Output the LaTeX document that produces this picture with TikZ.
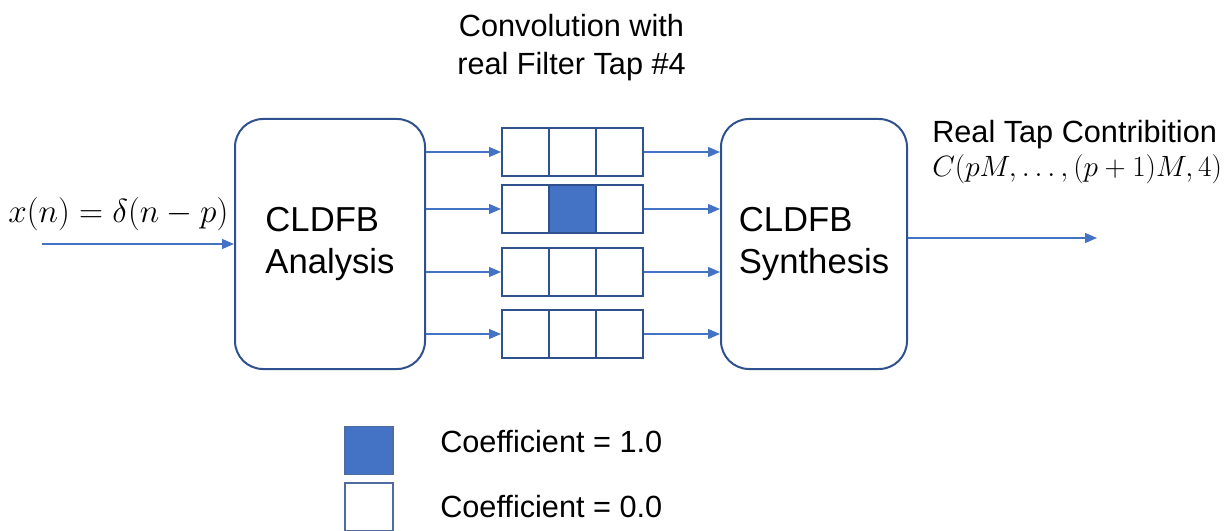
\RequirePackage{fix-cm}
\documentclass[tikz,border=0pt]{standalone}
\usepackage{fontspec}
\setmainfont{Liberation Sans}
\usetikzlibrary{arrows.meta, positioning}
\definecolor{tapBlue}{HTML}{4472C4}
\definecolor{edgeBlue}{HTML}{2F528F}
\tikzset{
    >={Triangle[length=9pt,width=7.5pt]},
    % Shapes
    block/.style={rectangle, draw=edgeBlue, line width=1.5pt, rounded corners=21pt,
                  minimum height=187.5pt, align=left, inner sep=0pt,
                  font=\fontsize{26}{32}\selectfont},
    cell/.style={rectangle, draw=edgeBlue, line width=1.5pt, inner sep=0pt,
                 minimum width=35.25pt, minimum height=36pt},
    key/.style={cell, draw=edgeBlue!85!white, line width=1.2pt, minimum width=36pt},
    % Flow & Labels
    flow/.style={->, tapBlue, line width=0.9pt},
    lbl/.style={inner sep=0pt, align=center, font=\fontsize{23}{28.5}\selectfont}
}

\begin{document}
\begin{tikzpicture}[x=0.75pt, y=-0.75pt]
\useasboundingbox (0,0) rectangle (1232,531);

\node[block, minimum width=142.5pt] (ana) at (330,244) {CLDFB\\Analysis};
\node[block, minimum width=139.5pt] (syn) at (814,244) {CLDFB\\Synthesis};

% filter taps, one row per band
\foreach \r/\yy/\on in {1/152/0, 2/209/2, 3/272/0, 4/334/0}{
  \foreach \c in {1,2,3}{
    \def\cfill{white}
    \ifnum\c=\on \def\cfill{tapBlue}\fi
    \node[cell, fill=\cfill] (c\r\c) at ({525.5+47*(\c-1)},\yy) {};
  }
  \draw[flow] (ana.east |- c\r1) -- (c\r1.west);
  \draw[flow] (c\r3.east) -- (syn.west |- c\r3);
}

\coordinate (in) at (42,244);
\coordinate (out) at (1097,238);
\draw[flow] (in) -- (ana.west);
\draw[flow] (syn.east |- out) -- (out);

\node[lbl, anchor=base west, font=\fontsize{25}{30}\selectfont] (inLbl) at (8,223)
     {$x(n)=\delta(n-p)$};
\node[lbl] (convLbl) at (571.5,48) {Convolution with\\real Filter Tap \#4};
\node[lbl, anchor=base west] (outLbl) at (932,143) {Real Tap Contribition};
\node[lbl, anchor=base west, font=\fontsize{22}{26}\selectfont] (outMath) at (932,177)
     {$C(pM,\ldots,(p+1)M,4)$};

% legend
\node[key, fill=tapBlue] (keyOn) at (369,450.5) {};
\node[key] (keyOff) at (369,507) {};
\node[lbl, anchor=base west] (keyOnLbl) at (440,452) {Coefficient = 1.0};
\node[lbl, anchor=base west] (keyOffLbl) at (440,517) {Coefficient = 0.0};

\end{tikzpicture}
\end{document}
